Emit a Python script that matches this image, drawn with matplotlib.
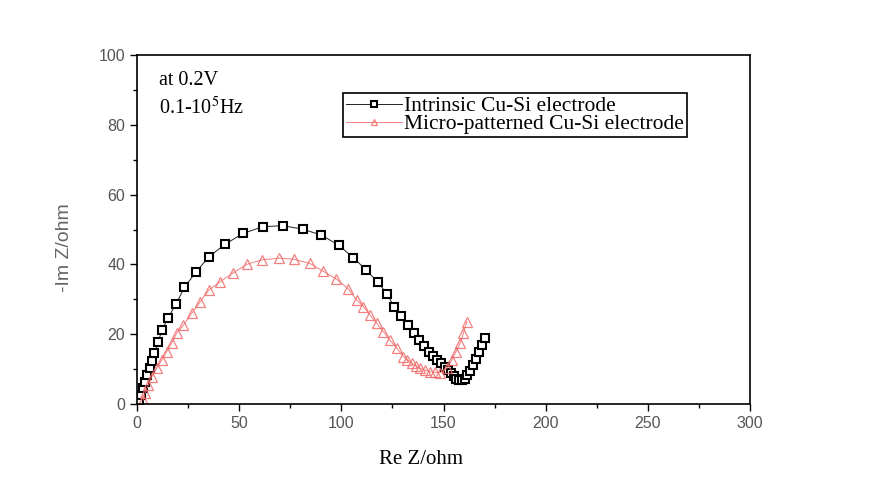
import numpy as np
import matplotlib
matplotlib.use('Agg')
import matplotlib.pyplot as plt
from matplotlib.ticker import MultipleLocator

plt.rcParams['mathtext.fontset'] = 'stix'

# Intrinsic Cu-Si electrode (black squares)
re_intrinsic = [1.0, 1.8, 2.8, 3.9, 5.1, 6.4, 7.3, 8.5, 10.3, 12.2, 15.2, 19.1, 23.2, 28.9,
                35.2, 43.1, 52.0, 61.5, 71.3, 81.1, 90.2, 98.7, 105.9, 112.1, 117.8, 122.4,
                125.7, 129.4, 132.5, 135.5, 137.9, 140.3, 142.7, 145.0, 147.0, 148.8, 150.5,
                152.2, 153.7, 155.0, 156.3, 157.6, 158.9, 160.3, 161.5, 162.8, 164.3, 165.8,
                167.4, 168.7, 170.2]
im_intrinsic = [1.0, 2.6, 4.5, 6.4, 8.3, 10.4, 12.4, 14.5, 17.7, 21.2, 24.7, 28.7, 33.4, 37.9,
                42.2, 45.8, 48.9, 50.8, 51.1, 50.1, 48.4, 45.5, 41.9, 38.4, 34.9, 31.5,
                27.9, 25.3, 22.7, 20.4, 18.2, 16.5, 15.0, 13.8, 12.6, 11.7, 10.7,
                9.7, 8.8, 8.0, 7.3, 6.9, 6.8, 7.3, 8.2, 9.5, 11.2, 13.0,
                14.8, 16.8, 18.8]

# Micro-patterned Cu-Si electrode (red triangles)
re_micro = [3.1, 3.9, 5.5, 7.2, 9.6, 12.1, 14.5, 16.9, 19.4, 22.7, 26.8, 30.8, 35.2, 40.6,
            47.1, 53.7, 61.0, 69.7, 76.6, 84.5, 91.2, 97.5, 103.4, 107.5, 110.8, 114.0,
            117.3, 120.6, 123.8, 127.1, 130.3, 132.3, 134.4, 136.4, 138.5, 141.0, 143.4,
            146.0, 148.3, 151.6, 154.0, 156.1, 158.1, 159.7, 161.4]
im_micro = [1.1, 3.1, 5.4, 7.8, 10.2, 12.6, 15.0, 17.4, 20.3, 22.6, 26.0, 29.2, 32.7, 35.0,
            37.6, 40.0, 41.3, 41.8, 41.5, 40.3, 38.0, 35.8, 33.0, 29.8, 27.9, 25.5,
            23.1, 20.7, 18.3, 16.0, 13.6, 12.6, 11.7, 10.9, 10.2, 9.7, 9.3,
            9.1, 9.0, 10.2, 12.6, 15.0, 17.4, 20.3, 23.6]

fig = plt.figure(figsize=(8.74, 4.8), dpi=100)
ax = fig.add_axes([0.1568, 0.1583, 0.7014, 0.7271])

ax.plot(re_intrinsic, im_intrinsic, color='#222222', lw=0.7, marker='s', ms=6,
        mfc='white', mec='black', mew=1.5, label='Intrinsic Cu-Si electrode')
ax.plot(re_micro, im_micro, color='#f06a6a', lw=0.7, marker='^', ms=6.5,
        mfc='none', mec='#f06a6a', mew=0.9, alpha=0.85,
        label='Micro-patterned Cu-Si electrode')

ax.set_xlim(0, 300)
ax.set_ylim(0, 100)
ax.xaxis.set_major_locator(MultipleLocator(50))
ax.xaxis.set_minor_locator(MultipleLocator(25))
ax.yaxis.set_major_locator(MultipleLocator(20))
ax.yaxis.set_minor_locator(MultipleLocator(10))
ax.tick_params(which='major', direction='out', length=5, width=1,
               labelsize=11.5, labelcolor='#555555', top=False, right=False)
ax.tick_params(which='minor', direction='out', length=3, width=1, top=False, right=False)
for lab in ax.get_xticklabels() + ax.get_yticklabels():
    lab.set_family('Liberation Sans')
for sp in ax.spines.values():
    sp.set_linewidth(1.2)

ax.set_xlabel('Re Z/ohm', family='Liberation Serif', fontsize=15)
ax.xaxis.set_label_coords(0.463, -0.132)
ax.set_ylabel('-Im Z/ohm', family='Liberation Sans', fontsize=14, color='#666666')
ax.yaxis.set_label_coords(-0.104, 0.447)

ax.text(0.036, 0.955, 'at 0.2V', transform=ax.transAxes, family='Liberation Serif',
        fontsize=14.5, va='top')
ax.text(0.036, 0.88, '0.1-10$^5$Hz', transform=ax.transAxes, family='Liberation Serif',
        fontsize=14.5, va='top')

leg = ax.legend(loc='upper left', bbox_to_anchor=(0.336, 0.891), frameon=True,
                fancybox=False, edgecolor='black', framealpha=1,
                prop={'family': 'Liberation Serif', 'size': 15.5},
                handlelength=2.6, handletextpad=0.1, borderpad=0.15,
                labelspacing=-0.1, borderaxespad=0, markerscale=0.75)
leg.get_frame().set_linewidth(1.2)

fig.savefig('out.png', dpi=100)
